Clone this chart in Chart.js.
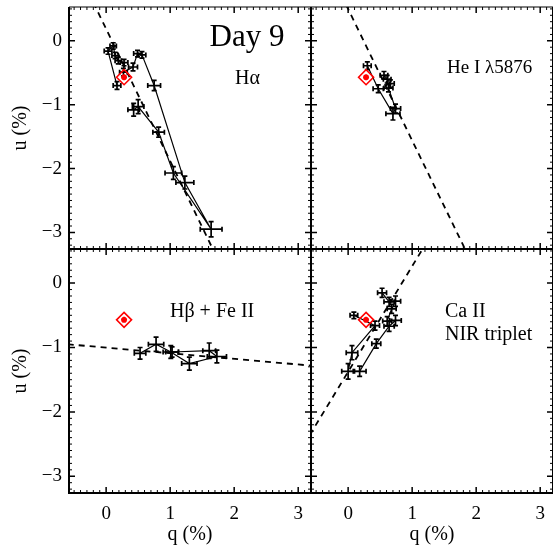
<!DOCTYPE html>
<html>
<head>
<meta charset="utf-8">
<script src="https://cdn.jsdelivr.net/npm/chart.js@4/dist/chart.umd.min.js"></script>
<style>
  body { margin: 0; background: #fff; }
  #wrap { position: relative; width: 553px; height: 549px; }
  #wrap canvas { position: absolute; left: 0; top: 0; }
</style>
</head>
<body>
<div id="wrap">
  <canvas id="panel_ha" width="553" height="549"></canvas>
  <canvas id="panel_he" width="553" height="549"></canvas>
  <canvas id="panel_hb" width="553" height="549"></canvas>
  <canvas id="panel_ca" width="553" height="549"></canvas>
</div>
<script>
// q-u diagrams, day 9

var qTicks = [0, 1, 2, 3];
var uTicks = [-3, -2, -1, 0];
var qRange = [-0.58, 3.2];
var uRange = [-3.26, 0.53];

// continuum / interstellar point
var isQ = [0.28];
var isU = [-0.57];

// H alpha
var haQ    = [0.43, 0.50, 0.82, 1.05, 1.64, 1.23, 0.75, 0.56, 0.49, 0.42, 0.27, 0.28, 0.19, 0.14, 0.11, 0.03, 0.17];
var haU    = [-1.08, -1.03, -1.43, -2.07, -2.95, -2.22, -0.70, -0.22, -0.20, -0.41, -0.49, -0.34, -0.31, -0.23, -0.08, -0.16, -0.70];
var haQErr = [0.09, 0.09, 0.09, 0.13, 0.17, 0.14, 0.10, 0.06, 0.06, 0.07, 0.06, 0.06, 0.05, 0.05, 0.05, 0.06, 0.06];
var haUErr = [0.10, 0.11, 0.08, 0.10, 0.12, 0.10, 0.08, 0.05, 0.05, 0.06, 0.06, 0.05, 0.05, 0.05, 0.05, 0.05, 0.06];
var haFitQ = [-0.2, 1.7];
var haFitU = [0.6, -3.33];

// He I 5876
var heQ    = [0.30, 0.47, 0.70, 0.74, 0.63, 0.66, 0.61, 0.56];
var heU    = [-0.39, -0.75, -1.14, -1.06, -0.74, -0.67, -0.60, -0.54];
var heQErr = [0.06, 0.08, 0.11, 0.08, 0.07, 0.06, 0.06, 0.06];
var heUErr = [0.06, 0.06, 0.10, 0.07, 0.06, 0.06, 0.06, 0.06];
var heFitQ = [-0.03, 1.85];
var heFitU = [0.56, -3.31];

// H beta + Fe II
var hbQ    = [0.53, 0.78, 1.01, 1.30, 1.73, 1.61, 1.03];
var hbU    = [-1.09, -0.95, -1.07, -1.25, -1.14, -1.05, -1.07];
var hbQErr = [0.09, 0.12, 0.12, 0.12, 0.15, 0.10, 0.10];
var hbUErr = [0.09, 0.11, 0.10, 0.10, 0.10, 0.12, 0.08];
var hbFitQ = [-0.6, 3.3];
var hbFitU = [-0.95, -1.29];

// Ca II NIR triplet
var caQ    = [0.09, 0.42, 0.06, 0.00, 0.18, 0.44, 0.64, 0.74, 0.61, 0.68, 0.74, 0.64, 0.53];
var caU    = [-0.50, -0.66, -1.08, -1.37, -1.37, -0.94, -0.67, -0.58, -0.59, -0.40, -0.28, -0.29, -0.15];
var caQErr = [0.06, 0.07, 0.09, 0.10, 0.10, 0.07, 0.08, 0.09, 0.07, 0.07, 0.08, 0.08, 0.07];
var caUErr = [0.05, 0.07, 0.11, 0.12, 0.08, 0.07, 0.08, 0.08, 0.07, 0.07, 0.08, 0.07, 0.07];
var caFitQ = [-0.6, 1.2];
var caFitU = [-2.36, 0.59];

var FONT = '"Liberation Serif", "Times New Roman", serif';
var RED = '#ff0000';

function toPoints(q, u) {
  var pts = [];
  for (var i = 0; i < q.length; i++) {
    pts.push({x: q[i], y: u[i]});
  }
  return pts;
}

function minusLabel(v) {
  return v < 0 ? '\u2212' + Math.abs(v) : String(v);
}

// error bars with little caps, under the lines
var errorBars = {
  id: 'errorBars',
  beforeDatasetsDraw: function(chart) {
    var ctx = chart.ctx, a = chart.chartArea;
    var x = chart.scales.x, y = chart.scales.y;
    ctx.save();
    ctx.beginPath();
    ctx.rect(a.left, a.top, a.right - a.left, a.bottom - a.top);
    ctx.clip();
    ctx.strokeStyle = '#000';
    ctx.lineWidth = 1.7;
    chart.data.datasets.forEach(function(ds) {
      if (!ds.errQ) return;
      ds.data.forEach(function(p, i) {
        var px = x.getPixelForValue(p.x), py = y.getPixelForValue(p.y);
        var x0 = x.getPixelForValue(p.x - ds.errQ[i]), x1 = x.getPixelForValue(p.x + ds.errQ[i]);
        var y0 = y.getPixelForValue(p.y - ds.errU[i]), y1 = y.getPixelForValue(p.y + ds.errU[i]);
        var c = 2.5;
        ctx.beginPath();
        ctx.moveTo(x0, py); ctx.lineTo(x1, py);
        ctx.moveTo(x0, py - c); ctx.lineTo(x0, py + c);
        ctx.moveTo(x1, py - c); ctx.lineTo(x1, py + c);
        ctx.moveTo(px, y0); ctx.lineTo(px, y1);
        ctx.moveTo(px - c, y0); ctx.lineTo(px + c, y0);
        ctx.moveTo(px - c, y1); ctx.lineTo(px + c, y1);
        ctx.stroke();
      });
    });
    ctx.restore();
  }
};

// box with inward ticks on all four sides, plus the panel labels
var frameTicks = {
  id: 'frameTicks',
  afterDraw: function(chart) {
    var ctx = chart.ctx, a = chart.chartArea;
    var x = chart.scales.x, y = chart.scales.y;
    ctx.save();
    ctx.strokeStyle = '#000';
    var i, p, len;
    for (i = Math.ceil(x.min * 10); i <= Math.floor(x.max * 10); i++) {
      p = x.getPixelForValue(i / 10);
      len = i % 10 === 0 ? 6 : 3;
      ctx.lineWidth = i % 10 === 0 ? 1.5 : 1;
      ctx.beginPath();
      ctx.moveTo(p, a.bottom); ctx.lineTo(p, a.bottom - len);
      ctx.moveTo(p, a.top); ctx.lineTo(p, a.top + len);
      ctx.stroke();
    }
    for (i = Math.ceil(y.min * 10); i <= Math.floor(y.max * 10); i++) {
      p = y.getPixelForValue(i / 10);
      len = i % 10 === 0 ? 6 : 3;
      ctx.lineWidth = i % 10 === 0 ? 1.5 : 1;
      ctx.beginPath();
      ctx.moveTo(a.left, p); ctx.lineTo(a.left + len, p);
      ctx.moveTo(a.right, p); ctx.lineTo(a.right - len, p);
      ctx.stroke();
    }
    ctx.lineWidth = 2;
    ctx.beginPath();
    ctx.moveTo(a.left, a.top); ctx.lineTo(a.left, a.bottom);
    ctx.lineTo(a.right, a.bottom); ctx.lineTo(a.right, a.top);
    ctx.stroke();
    ctx.lineWidth = 1.2;
    ctx.beginPath();
    ctx.moveTo(a.left, a.top); ctx.lineTo(a.right, a.top);
    ctx.stroke();

    var labels = chart.options.plugins.frameTicks.labels || [];
    ctx.fillStyle = '#000';
    ctx.textBaseline = 'alphabetic';
    labels.forEach(function(l) {
      ctx.font = l.size + 'px ' + FONT;
      ctx.textAlign = l.align || 'left';
      ctx.fillText(l.text, a.left + l.dx, a.top + l.dy);
    });
    ctx.restore();
  }
};

function makePanel(id, col, row, q, u, qErr, uErr, fitQ, fitU, labels) {
  var isLeft = col === 0, isBottom = row === 1;
  return new Chart(document.getElementById(id), {
    type: 'scatter',
    data: {
      datasets: [
        {
          data: toPoints(isQ, isU),
          pointStyle: 'rectRot',
          pointRadius: 7.5,
          borderColor: RED,
          borderWidth: 1.6,
          backgroundColor: 'rgba(0,0,0,0)'
        },
        {
          data: toPoints(isQ, isU),
          pointStyle: 'star',
          pointRadius: 3,
          borderColor: RED,
          borderWidth: 2,
          backgroundColor: RED
        },
        {
          data: toPoints(q, u),
          errQ: qErr,
          errU: uErr,
          showLine: true,
          borderColor: '#000',
          borderWidth: 1.2,
          pointRadius: 0
        },
        {
          data: toPoints(fitQ, fitU),
          showLine: true,
          borderColor: '#000',
          borderWidth: 1.8,
          borderDash: [6, 5],
          pointRadius: 0
        }
      ]
    },
    options: {
      responsive: false,
      animation: false,
      devicePixelRatio: 1,
      layout: {
        autoPadding: false,
        padding: {
          left: isLeft ? 0 : 311,
          right: isLeft ? 242 : 0,
          top: isBottom ? 249 : 7,
          bottom: isBottom ? 0 : 300
        }
      },
      plugins: {
        legend: { display: false },
        tooltip: { enabled: false },
        frameTicks: { labels: labels }
      },
      scales: {
        x: {
          type: 'linear',
          min: qRange[0],
          max: qRange[1],
          afterBuildTicks: function(s) { s.ticks = qTicks.map(function(v) { return {value: v}; }); },
          afterFit: function(s) {
            s.height = isBottom ? 56 : 0;
            s.paddingLeft = 0; s.paddingRight = 0;
          },
          grid: { display: false, drawTicks: false },
          border: { display: false },
          ticks: {
            display: isBottom,
            padding: 10,
            color: '#000',
            font: { family: FONT, size: 19 },
            callback: minusLabel
          },
          title: {
            display: isBottom,
            text: 'q (%)',
            color: '#000',
            font: { family: FONT, size: 20 },
            padding: { top: 0, bottom: 2 }
          }
        },
        y: {
          type: 'linear',
          min: uRange[0],
          max: uRange[1],
          afterBuildTicks: function(s) { s.ticks = uTicks.map(function(v) { return {value: v}; }); },
          afterFit: function(s) {
            s.width = isLeft ? 69 : 0;
            s.paddingTop = 0; s.paddingBottom = 0;
          },
          grid: { display: false, drawTicks: false },
          border: { display: false },
          ticks: {
            display: isLeft,
            padding: 7,
            color: '#000',
            font: { family: FONT, size: 19 },
            callback: minusLabel
          },
          title: {
            display: isLeft,
            text: 'u (%)',
            color: '#000',
            font: { family: FONT, size: 20 },
            padding: { top: 9, bottom: 0 }
          }
        }
      }
    },
    plugins: [errorBars, frameTicks]
  });
}

makePanel('panel_ha', 0, 0, haQ, haU, haQErr, haUErr, haFitQ, haFitU, [
  { text: 'Day 9', dx: 178, dy: 39, size: 31, align: 'center' },
  { text: 'H\u03b1', dx: 166, dy: 77, size: 20 }
]);
makePanel('panel_he', 1, 0, heQ, heU, heQErr, heUErr, heFitQ, heFitU, [
  { text: 'He I \u03bb5876', dx: 136, dy: 66, size: 19 }
]);
makePanel('panel_hb', 0, 1, hbQ, hbU, hbQErr, hbUErr, hbFitQ, hbFitU, [
  { text: 'H\u03b2 + Fe II', dx: 101, dy: 68, size: 20 }
]);
makePanel('panel_ca', 1, 1, caQ, caU, caQErr, caUErr, caFitQ, caFitU, [
  { text: 'Ca II', dx: 134, dy: 68, size: 20 },
  { text: 'NIR triplet', dx: 134, dy: 91, size: 20 }
]);
</script>
</body>
</html>
